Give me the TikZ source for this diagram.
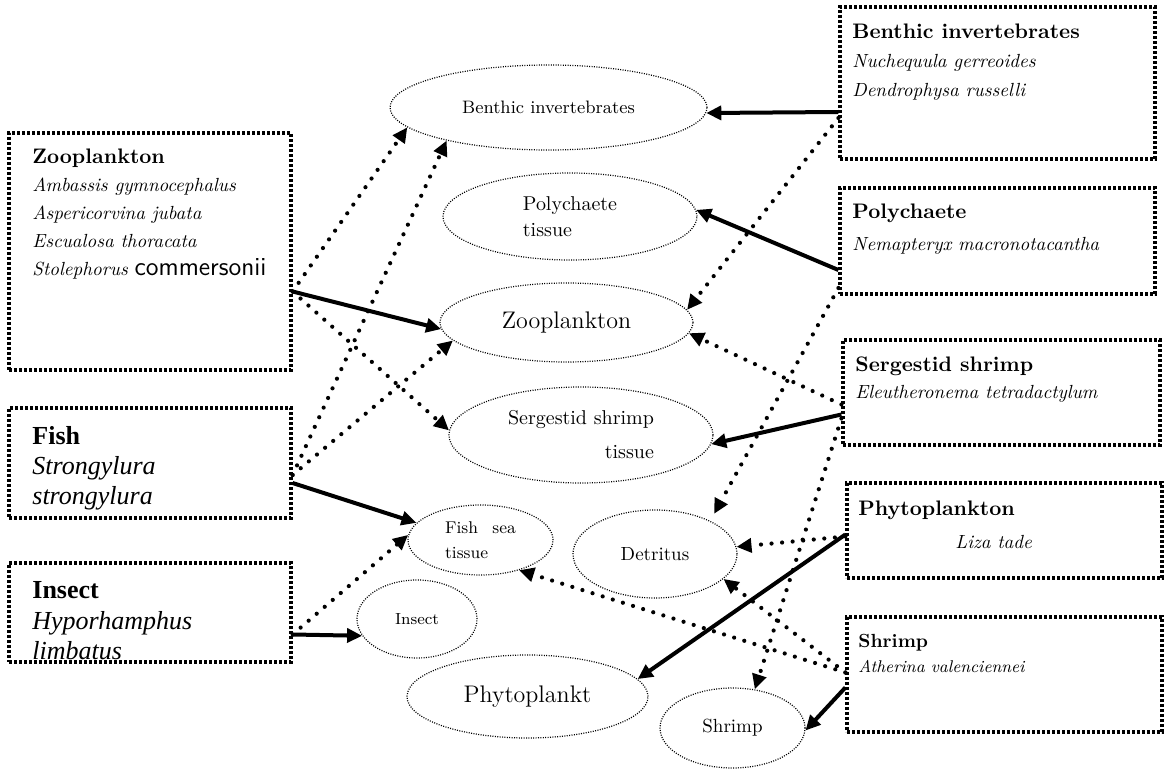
\documentclass[tikz,border=0pt]{standalone}
\usepackage{fontspec}
\newfontfamily\timesfont{Liberation Serif}
\usetikzlibrary{calc}
\usetikzlibrary{arrows.meta}
\usetikzlibrary{shapes.geometric}
\tikzset{>={Triangle[length=7.5pt,width=7pt]}}
\tikzstyle{source box}=[draw, line width=1.6pt, dash pattern=on 1.4pt off 1.1pt, inner sep=0pt]
\tikzstyle{tissue}=[draw, ellipse, line width=0.6pt, dash pattern=on 0.5pt off 0.7pt, inner sep=0pt]
\tikzstyle{box text}=[anchor=north west, align=left, inner sep=0pt]
\tikzstyle{feed}=[->, line width=2pt]
\tikzstyle{feed dotted}=[->, line width=2.1pt, line cap=round, dash pattern=on 0pt off 5.3pt]

\begin{document}
\begin{tikzpicture}[x=0.5pt, y=-0.5pt]
        \useasboundingbox (0,0) rectangle (1168,770);

        % SOURCE BOXES (left)
        \node[source box, minimum width=141pt, minimum height=118.5pt] (zbox) at (150,251.5) {};
        \node[source box, minimum width=141pt, minimum height=55pt] (fbox) at (150,463) {};
        \node[source box, minimum width=141pt, minimum height=49.5pt] (ibox) at (150,612.5) {};

        % SOURCE BOXES (right)
        \node[source box, minimum width=157.5pt, minimum height=76pt] (bbox) at (997.5,83) {};
        \node[source box, minimum width=157.5pt, minimum height=53pt] (pbox) at (997.5,241) {};
        \node[source box, minimum width=158.5pt, minimum height=52.5pt] (sbox) at (1001.5,392.5) {};
        \node[source box, minimum width=157.5pt, minimum height=47.5pt] (phbox) at (1004.5,530.5) {};
        \node[source box, minimum width=157.5pt, minimum height=57.5pt] (shbox) at (1004.5,674.5) {};

        % BOX TEXTS
        \node[box text, font=\fontsize{9.5}{13.9}\selectfont\itshape] (zlab) at (32,149)
          {{\upshape\bfseries\fontsize{10.5}{13.9}\selectfont Zooplankton}\\
           Ambassis gymnocephalus\\ Aspericorvina jubata\\ Escualosa thoracata\\
           Stolephorus {\upshape\sffamily\fontsize{13}{13.9}\selectfont commersonii}};
        \node[box text, font=\timesfont\fontsize{13}{15}\selectfont\itshape] (flab) at (32,426)
          {{\upshape\bfseries Fish}\\ Strongylura\\ strongylura};
        \node[box text, font=\timesfont\fontsize{13}{15.3}\selectfont\itshape] (ilab) at (32,581)
          {{\upshape\bfseries Insect}\\ Hyporhamphus\\ limbatus};
        \node[box text, font=\fontsize{9.5}{14.5}\selectfont\itshape] (blab) at (852,24)
          {{\upshape\bfseries\fontsize{10.5}{14.5}\selectfont Benthic invertebrates}\\
           Nuchequula gerreoides\\ Dendrophysa russelli};
        \node[box text, font=\fontsize{9.5}{16}\selectfont\itshape] (plab) at (852,204)
          {{\upshape\bfseries\fontsize{10.5}{16}\selectfont Polychaete}\\ Nemapteryx macronotacantha};
        \node[box text, font=\fontsize{9.5}{13.5}\selectfont\itshape] (slab) at (855,356)
          {{\upshape\bfseries\fontsize{10.5}{13.5}\selectfont Sergestid shrimp}\\ Eleutheronema tetradactylum};
        \node[box text, font=\fontsize{10.5}{13}\selectfont\bfseries] (phlab) at (858,501) {Phytoplankton};
        \node[anchor=west, inner sep=0pt, font=\fontsize{9.5}{12}\selectfont\itshape] (phsp) at (955,542) {Liza tade};
        \node[box text, font=\fontsize{8.5}{12.5}\selectfont\itshape] (shlab) at (858,634)
          {{\upshape\bfseries\fontsize{9.5}{12.5}\selectfont Shrimp}\\ Atherina valenciennei};

        % TISSUE ELLIPSES
        \node[tissue, minimum width=158.5pt, minimum height=42.5pt, font=\fontsize{9}{11}\selectfont] (benth) at (548.5,107.5) {Benthic invertebrates};
        \node[tissue, minimum width=127pt, minimum height=43.5pt, align=left, font=\fontsize{10}{13}\selectfont] (poly) at (570,216.5) {Polychaete\\tissue};
        \node[tissue, minimum width=126.5pt, minimum height=39.5pt, font=\fontsize{12}{14}\selectfont] (zoo) at (566.5,322.5) {Zooplankton};
        \node[tissue, minimum width=132pt, minimum height=48pt, align=right, font=\fontsize{10}{17}\selectfont] (serg) at (581,435) {Sergestid shrimp\\tissue};
        \node[tissue, minimum width=72.5pt, minimum height=35pt, align=left, font=\fontsize{8.5}{12.5}\selectfont] (fish) at (480.5,540) {Fish\ \ \,sea\\tissue};
        \node[tissue, minimum width=82pt, minimum height=44pt, font=\fontsize{9.5}{12}\selectfont] (detr) at (655,554) {Detritus};
        \node[tissue, minimum width=60pt, minimum height=39pt, font=\fontsize{8}{10}\selectfont] (insect) at (417,619) {Insect};
        \node[tissue, minimum width=120.5pt, minimum height=41.5pt, font=\fontsize{12}{14}\selectfont] (phyto) at (527.5,696.5) {Phytoplankt};
        \node[tissue, minimum width=72.5pt, minimum height=40pt, font=\fontsize{9.5}{12}\selectfont] (shrimp) at (732.5,728) {Shrimp};

        % END POINTS ON THE BOXES
        \coordinate (zout) at ($(zbox.east)+(0,40)$);
        \coordinate (fout) at ($(fbox.east)+(0,20)$);
        \coordinate (fdot) at ($(fbox.east)+(0,12)$);
        \coordinate (iout) at ($(ibox.east)+(0,22)$);
        \coordinate (bout) at ($(bbox.west)+(0,29)$);
        \coordinate (bdot) at ($(bbox.west)+(0,35)$);
        \coordinate (pout) at ($(pbox.west)+(0,29)$);
        \coordinate (pdot) at ($(pbox.west)+(0,47)$);
        \coordinate (sout) at ($(sbox.west)+(0,22)$);
        \coordinate (sdot) at ($(sbox.west)+(0,12)$);
        \coordinate (sdot') at ($(sbox.west)+(0,26)$);
        \coordinate (phout) at ($(phbox.west)+(0,4)$);
        \coordinate (phdot) at ($(phbox.west)+(0,6)$);
        \coordinate (shdot) at ($(shbox.west)+(0,-2)$);
        \coordinate (shout) at ($(shbox.west)+(0,13)$);

        % ARROWS FROM THE LEFT
        \draw[feed dotted] (zout) -- (benth.188);
        \draw[feed] (zout) -- (zoo.183);
        \draw[feed dotted] (zout) -- (serg.178);
        \draw[feed dotted] (fdot) -- (benth.198);
        \draw[feed dotted] (fdot) -- (zoo.189);
        \draw[feed] (fout) -- (fish.165);
        \draw[feed dotted] (iout) -- (fish.176);
        \draw[feed] (iout) -- (insect.197);

        % ARROWS FROM THE RIGHT
        \draw[feed] (bout) -- (benth.-2);
        \draw[feed dotted] (bdot) -- (zoo.6);
        \draw[feed] (pout) -- (poly.3);
        \draw[feed dotted, shorten >=4pt] (pdot) -- (detr.31);
        \draw[feed] (sout) -- (serg.-4);
        \draw[feed dotted] (sdot) -- (zoo.-5);
        \draw[feed dotted] (sdot') -- (shrimp.60);
        \draw[feed] (phout) -- (phyto.9);
        \draw[feed dotted] (phdot) -- (detr.5);
        \draw[feed dotted] (shdot) -- (fish.-38);
        \draw[feed dotted] (shdot) -- (detr.-20);
        \draw[feed] (shout) -- (shrimp.-2);

\end{tikzpicture}
\end{document}
